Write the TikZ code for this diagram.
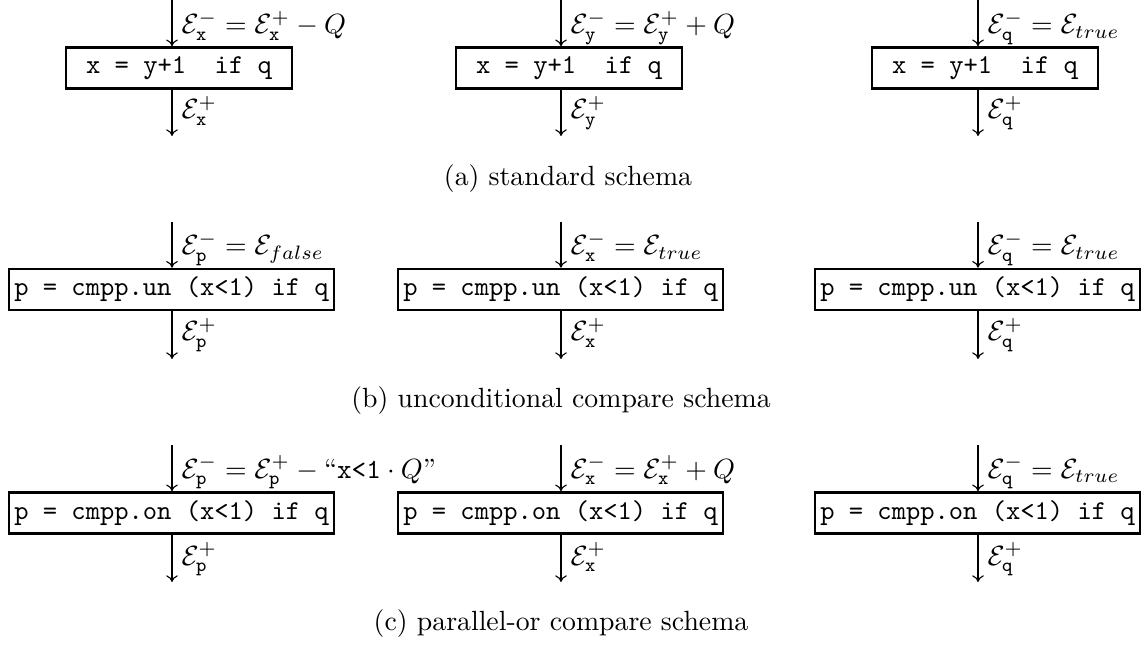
\documentclass[tikz,border=0pt]{standalone}
\usetikzlibrary{arrows.meta}
\begin{document}
\begin{tikzpicture}[x=0.36pt,y=-0.36pt,
  flow/.style={line width=0.4pt,-{To[length=2.4pt,width=4.2pt]}},
  shortbox/.style={draw,line width=0.9pt,rectangle,minimum width=81.4pt,minimum height=14.8pt,inner xsep=0.5pt,inner ysep=0pt,font=\fontsize{9.8}{12}\selectfont\ttfamily},
  longbox/.style={draw,line width=0.9pt,rectangle,minimum width=117pt,minimum height=14.8pt,inner xsep=0.5pt,inner ysep=0pt,font=\fontsize{9.8}{12}\selectfont\ttfamily},
  lbl/.style={anchor=base west,inner sep=0pt},
  captext/.style={anchor=base,inner sep=0pt}]
\useasboundingbox (0,0) rectangle (1144,645);

% ---------- row a ----------
\node[shortbox] (a1) at (179,68) {x = y+1\ \ if q};
\node[shortbox] (a2) at (569,68) {x = y+1\ \ if q};
\node[shortbox] (a3) at (985,68) {x = y+1\ \ if q};
\coordinate (a1t) at (172,0);   \coordinate (a1b) at (172,136);
\coordinate (a2t) at (561,0);   \coordinate (a2b) at (561,136);
\coordinate (a3t) at (978,0);   \coordinate (a3b) at (978,136);
\draw[flow] (a1t) -- (a1t |- a1.north);
\draw[flow] (a1t |- a1.south) -- (a1b);
\draw[flow] (a2t) -- (a2t |- a2.north);
\draw[flow] (a2t |- a2.south) -- (a2b);
\draw[flow] (a3t) -- (a3t |- a3.north);
\draw[flow] (a3t |- a3.south) -- (a3b);
\node[lbl] (a1l) at (181,34) {$\mathcal{E}^-_{\mathtt{x}} = \mathcal{E}^+_{\mathtt{x}} - Q$};
\node[lbl] (a2l) at (570,34) {$\mathcal{E}^-_{\mathtt{y}} = \mathcal{E}^+_{\mathtt{y}} + Q$};
\node[lbl] (a3l) at (987,34) {$\mathcal{E}^-_{\mathtt{q}} = \mathcal{E}_{true}$};
\node[lbl] (a1m) at (181,119) {$\mathcal{E}^+_{\mathtt{x}}$};
\node[lbl] (a2m) at (570,119) {$\mathcal{E}^+_{\mathtt{y}}$};
\node[lbl] (a3m) at (987,119) {$\mathcal{E}^+_{\mathtt{q}}$};
\node[captext] (capa) at (568,186) {(a) standard schema};

% ---------- row b ----------
\node[longbox] (b1) at (171.5,289.5) {p = cmpp.un (x<1) if q};
\node[longbox] (b2) at (560.5,289.5) {p = cmpp.un (x<1) if q};
\node[longbox] (b3) at (977.5,289.5) {p = cmpp.un (x<1) if q};
\coordinate (b1t) at (172,222);   \coordinate (b1b) at (172,359);
\coordinate (b2t) at (561,222);   \coordinate (b2b) at (561,359);
\coordinate (b3t) at (978,222);   \coordinate (b3b) at (978,359);
\draw[flow] (b1t) -- (b1t |- b1.north);
\draw[flow] (b1t |- b1.south) -- (b1b);
\draw[flow] (b2t) -- (b2t |- b2.north);
\draw[flow] (b2t |- b2.south) -- (b2b);
\draw[flow] (b3t) -- (b3t |- b3.north);
\draw[flow] (b3t |- b3.south) -- (b3b);
\node[lbl] (b1l) at (181,255) {$\mathcal{E}^-_{\mathtt{p}} = \mathcal{E}_{false}$};
\node[lbl] (b2l) at (570,255) {$\mathcal{E}^-_{\mathtt{x}} = \mathcal{E}_{true}$};
\node[lbl] (b3l) at (987,255) {$\mathcal{E}^-_{\mathtt{q}} = \mathcal{E}_{true}$};
\node[lbl] (b1m) at (181,341) {$\mathcal{E}^+_{\mathtt{p}}$};
\node[lbl] (b2m) at (570,341) {$\mathcal{E}^+_{\mathtt{x}}$};
\node[lbl] (b3m) at (987,341) {$\mathcal{E}^+_{\mathtt{q}}$};
\node[captext] (capb) at (561,408) {(b) unconditional compare schema};

% ---------- row c ----------
\node[longbox] (c1) at (171.5,513) {p = cmpp.on (x<1) if q};
\node[longbox] (c2) at (560.5,513) {p = cmpp.on (x<1) if q};
\node[longbox] (c3) at (977.5,513) {p = cmpp.on (x<1) if q};
\coordinate (c1t) at (172,445);   \coordinate (c1b) at (172,582);
\coordinate (c2t) at (561,445);   \coordinate (c2b) at (561,582);
\coordinate (c3t) at (978,445);   \coordinate (c3b) at (978,582);
\draw[flow] (c1t) -- (c1t |- c1.north);
\draw[flow] (c1t |- c1.south) -- (c1b);
\draw[flow] (c2t) -- (c2t |- c2.north);
\draw[flow] (c2t |- c2.south) -- (c2b);
\draw[flow] (c3t) -- (c3t |- c3.north);
\draw[flow] (c3t |- c3.south) -- (c3b);
\node[lbl] (c1l) at (181,478) {$\mathcal{E}^-_{\mathtt{p}} = \mathcal{E}^+_{\mathtt{p}} - \mbox{``\texttt{x<1}} \cdot Q\mbox{''}$};
\node[lbl] (c2l) at (570,478) {$\mathcal{E}^-_{\mathtt{x}} = \mathcal{E}^+_{\mathtt{x}} + Q$};
\node[lbl] (c3l) at (987,478) {$\mathcal{E}^-_{\mathtt{q}} = \mathcal{E}_{true}$};
\node[lbl] (c1m) at (181,565) {$\mathcal{E}^+_{\mathtt{p}}$};
\node[lbl] (c2m) at (570,565) {$\mathcal{E}^+_{\mathtt{x}}$};
\node[lbl] (c3m) at (987,565) {$\mathcal{E}^+_{\mathtt{q}}$};
\node[captext] (capc) at (561,630) {(c) parallel-or compare schema};
\end{tikzpicture}
\end{document}
